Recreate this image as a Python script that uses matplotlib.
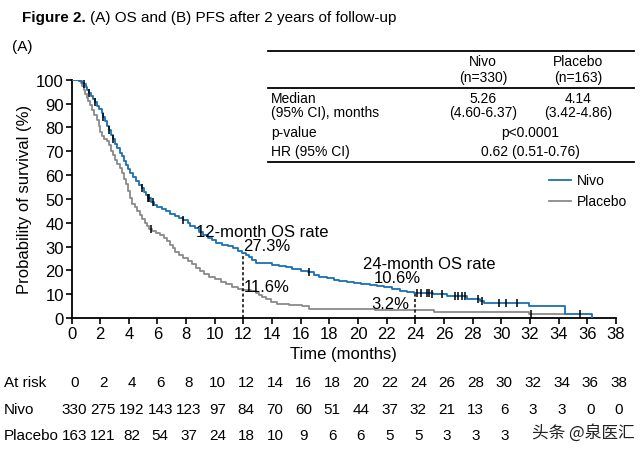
import matplotlib
matplotlib.use('Agg')
import matplotlib.pyplot as plt
import matplotlib.transforms as mtransforms

plt.rcParams['font.family'] = ['Liberation Sans', 'DejaVu Sans']

BLUE = '#1a6fb5'
GRAY = '#8a8a8a'

# Kaplan-Meier step points (month, survival %)
nivo_t = [0, 0.55, 0.7, 0.87, 1.0, 1.1, 1.24, 1.35, 1.5, 1.64, 1.8, 1.95, 2.1, 2.22, 2.35,
          2.5, 2.64, 2.78, 2.92, 3.05, 3.2, 3.35, 3.5, 3.65, 3.8, 3.95, 4.1, 4.3, 4.5,
          4.7, 4.9, 5.05, 5.2, 5.36, 5.55, 5.75, 6.0, 6.3, 6.6, 6.9, 7.2, 7.5, 7.8, 8.1,
          8.3, 8.6, 8.9, 9.2, 9.5, 9.8, 10.1, 10.5, 10.9, 11.3, 11.6, 11.9, 12.15, 12.4,
          12.6, 12.85, 13.5, 14.0, 14.5, 15.0, 15.4, 16.0, 16.5, 16.9, 17.3, 17.8, 18.3,
          18.7, 19.2, 19.7, 20.2, 20.8, 21.3, 21.8, 22.4, 22.9, 23.4, 23.9, 25.2, 26.2,
          27.6, 28.5, 28.8, 31.9, 34.45, 36.3]
nivo_s = [100, 99.4, 98.8, 98.2, 96.9, 95.7, 94.4, 93.0, 92.0, 90.5, 89.0, 87.7, 86.2, 84.4, 82.8,
          80.6, 78.7, 77.0, 75.0, 73.2, 71.3, 69.4, 67.8, 66.0, 64.3, 62.6, 61.0, 59.3, 57.5,
          56.0, 54.6, 53.0, 51.6, 50.2, 48.8, 47.4, 46.5, 45.8, 44.9, 43.8, 43.0, 42.0, 41.2, 40.0,
          38.8, 37.6, 36.2, 35.0, 33.6, 32.6, 31.6, 30.8, 30.1, 29.2, 28.2, 27.3, 26.5, 25.6,
          24.5, 23.2, 22.9, 22.2, 21.8, 21.2, 20.5, 19.8, 19.3, 18.0, 17.4, 16.6, 16.1,
          15.6, 15.1, 14.7, 14.2, 13.8, 13.4, 12.9, 12.2, 11.4, 10.9, 10.6, 10.1, 9.1,
          8.0, 7.2, 6.2, 5.2, 1.7, 0]

plac_t = [0, 0.55, 0.65, 0.75, 0.85, 0.95, 1.05, 1.15, 1.3, 1.45, 1.6, 1.75, 1.9, 2.0, 2.15,
          2.3, 2.45, 2.6, 2.75, 2.9, 3.05, 3.2, 3.35, 3.5, 3.65, 3.8, 3.95, 4.1, 4.25, 4.4,
          4.6, 4.8, 4.95, 5.1, 5.25, 5.4, 5.6, 5.9, 6.2, 6.45, 6.65, 6.85, 7.05, 7.25, 7.5,
          7.8, 8.1, 8.4, 8.7, 8.95, 9.25, 9.6, 10.0, 10.4, 10.8, 11.2, 11.6, 11.9, 12.5,
          12.85, 13.1, 13.3, 13.55, 13.9, 14.35, 15.2, 16.1, 16.6, 21.2, 25.3, 31.9, 34.4]
plac_s = [100, 99.4, 98.8, 97.5, 95.5, 93.8, 92.5, 91.0, 89.2, 87.3, 85.0, 83.0, 80.5, 78.2, 76.4,
          75.2, 74.2, 72.5, 70.2, 68.2, 66.4, 64.6, 62.8, 60.8, 58.5, 56.2, 53.2, 50.4, 48.0, 46.4,
          45.0, 43.2, 41.6, 40.0, 38.6, 37.4, 36.5, 35.6, 34.8, 33.6, 32.2, 30.8, 29.2, 27.8, 26.4,
          25.2, 24.0, 22.6, 21.0, 19.6, 18.4, 17.3, 16.2, 15.2, 14.4, 13.2, 12.3, 11.6, 11.2,
          10.6, 9.5, 8.7, 8.0, 6.9, 6.0, 5.6, 5.0, 3.8, 3.2, 2.4, 1.6, 1.6]

# censoring marks (month, survival %)
nivo_cens_t = [0.87, 1.24, 1.64, 2.22, 2.64, 2.92, 4.9, 5.36, 5.43, 5.71, 7.8, 16.6,
               24.13, 24.37, 24.79, 24.97, 25.14, 25.83, 26.76, 26.99, 27.23, 27.46,
               28.39, 28.62, 29.85, 30.32, 31.07, 35.49]
nivo_cens_s = [98.2, 94.4, 90.5, 84.4, 78.7, 75.0, 54.6, 50.2, 50.2, 48.8, 41.2, 19.3,
               10.6, 10.6, 10.6, 10.6, 10.1, 10.1, 9.1, 9.1, 9.1, 9.1,
               8.0, 7.2, 6.2, 6.2, 6.2, 1.7]
plac_cens_t = [5.55, 32.1]
plac_cens_s = [37.4, 1.6]

x_ticks = list(range(0, 39, 2))
y_ticks = list(range(0, 101, 10))
risk_nivo = [330, 275, 192, 143, 123, 97, 84, 70, 60, 51, 44, 37, 32, 21, 13, 6, 3, 3, 0, 0]
risk_plac = [163, 121, 82, 54, 37, 24, 18, 10, 9, 6, 6, 5, 5, 3, 3, 3]

fig = plt.figure(figsize=(6.4, 4.52), dpi=100)
W, H = 640, 452


def fx(px):
    return px / W


def fy(py):
    return 1 - py / H


ax = fig.add_axes([fx(71.5), fy(319), (616 - 71.5) / W, (319 - 80.7) / H])

ax.step(nivo_t, nivo_s, where='post', color=BLUE, lw=1.3, label='Nivo', zorder=3)
ax.step(plac_t, plac_s, where='post', color=GRAY, lw=1.3, label='Placebo', zorder=2)
ax.plot(nivo_cens_t, nivo_cens_s, ls='none', marker='|', color='black', ms=6, mew=1.1, zorder=4)
ax.plot(plac_cens_t, plac_cens_s, ls='none', marker='|', color='black', ms=6, mew=1.1, zorder=4)

ax.set_xlim(0, 38)
ax.set_ylim(0, 100)
ax.set_xticks(x_ticks)
ax.set_yticks(y_ticks)
ax.tick_params(labelsize=12, length=4, width=1.2, direction='out', pad=1.5)
for s in ['top', 'right']:
    ax.spines[s].set_visible(False)
for s in ['left', 'bottom']:
    ax.spines[s].set_linewidth(1.3)
ax.set_xlabel('Time (months)', fontsize=12, labelpad=4)
ax.set_ylabel('Probability of survival (%)', fontsize=12, labelpad=3)

# landmark annotations
afs = 12
ax.plot([12, 12], [0, 27.3], ls=(0, (2, 1.5)), color='black', lw=1.1)
ax.plot([24, 24], [0, 10.6], ls=(0, (2, 1.5)), color='black', lw=1.1)
ax.text(13.3, 36.4, '12-month OS rate', fontsize=afs, ha='center', va='center')
ax.text(12.0, 30.6, '27.3%', fontsize=afs, ha='left', va='center')
ax.text(12.0, 13.4, '11.6%', fontsize=afs, ha='left', va='center')
ax.text(25.0, 23.0, '24-month OS rate', fontsize=afs, ha='center', va='center')
ax.text(22.75, 16.8, '10.6%', fontsize=afs, ha='center', va='center')
ax.text(23.6, 5.9, '3.2%', fontsize=afs, ha='right', va='center')

ax.legend(loc='upper right', bbox_to_anchor=(1.03, 0.63), frameon=False, fontsize=10,
          handlelength=1.6, handletextpad=0.4, labelspacing=0.5, borderaxespad=0)

# title
t1 = fig.text(fx(22), fy(18), 'Figure 2.', fontsize=11, fontweight='bold', va='center')
fig.canvas.draw()
bb = t1.get_window_extent(fig.canvas.get_renderer())
fig.text(bb.x1 / W + fx(4), fy(18), '(A) OS and (B) PFS after 2 years of follow-up',
         fontsize=11, va='center')
fig.text(fx(12), fy(47), '(A)', fontsize=11, va='center')

# summary table
for ly in [52, 89, 163]:
    fig.add_artist(plt.Line2D([fx(268), fx(634)], [fy(ly), fy(ly)], color='black', lw=1.3))
tfs = 10
fig.text(fx(483), fy(62), 'Nivo', fontsize=tfs, ha='center', va='center')
fig.text(fx(578), fy(62), 'Placebo', fontsize=tfs, ha='center', va='center')
fig.text(fx(483), fy(78), '(n=330)', fontsize=tfs, ha='center', va='center')
fig.text(fx(578), fy(78), '(n=163)', fontsize=tfs, ha='center', va='center')
fig.text(fx(271), fy(99), 'Median', fontsize=tfs, ha='left', va='center')
fig.text(fx(271), fy(113), '(95% CI), months', fontsize=tfs, ha='left', va='center')
fig.text(fx(483), fy(99), '5.26', fontsize=tfs, ha='center', va='center')
fig.text(fx(483), fy(113), '(4.60-6.37)', fontsize=tfs, ha='center', va='center')
fig.text(fx(578), fy(99), '4.14', fontsize=tfs, ha='center', va='center')
fig.text(fx(578), fy(113), '(3.42-4.86)', fontsize=tfs, ha='center', va='center')
fig.text(fx(271), fy(133), 'p-value', fontsize=tfs, ha='left', va='center')
fig.text(fx(530), fy(133), 'p<0.0001', fontsize=tfs, ha='center', va='center')
fig.text(fx(271), fy(152), 'HR (95% CI)', fontsize=tfs, ha='left', va='center')
fig.text(fx(530), fy(152), '0.62 (0.51-0.76)', fontsize=tfs, ha='center', va='center')

# numbers at risk
trans = mtransforms.blended_transform_factory(ax.transData, fig.transFigure)
rfs = 11
fig.text(fx(4), fy(383), 'At risk', fontsize=rfs, ha='left', va='center')
fig.text(fx(4), fy(410), 'Nivo', fontsize=rfs, ha='left', va='center')
fig.text(fx(4), fy(436), 'Placebo', fontsize=rfs, ha='left', va='center')
for t in x_ticks:
    ax.text(t + 0.2, fy(383), str(t), fontsize=rfs, ha='center', va='center', transform=trans)
for t, n in zip(x_ticks, risk_nivo):
    ax.text(t + 0.2, fy(410), str(n), fontsize=rfs, ha='center', va='center', transform=trans)
for t, n in zip(x_ticks, risk_plac):
    ax.text(t + 0.2, fy(436), str(n), fontsize=rfs, ha='center', va='center', transform=trans)

fig.text(fx(583), fy(433), '头条 @泉医汇', fontsize=12, ha='center', va='center', color='#222222',
         family=['Noto Sans CJK SC', 'DejaVu Sans'])

fig.savefig('out.png', dpi=100, facecolor='white')
